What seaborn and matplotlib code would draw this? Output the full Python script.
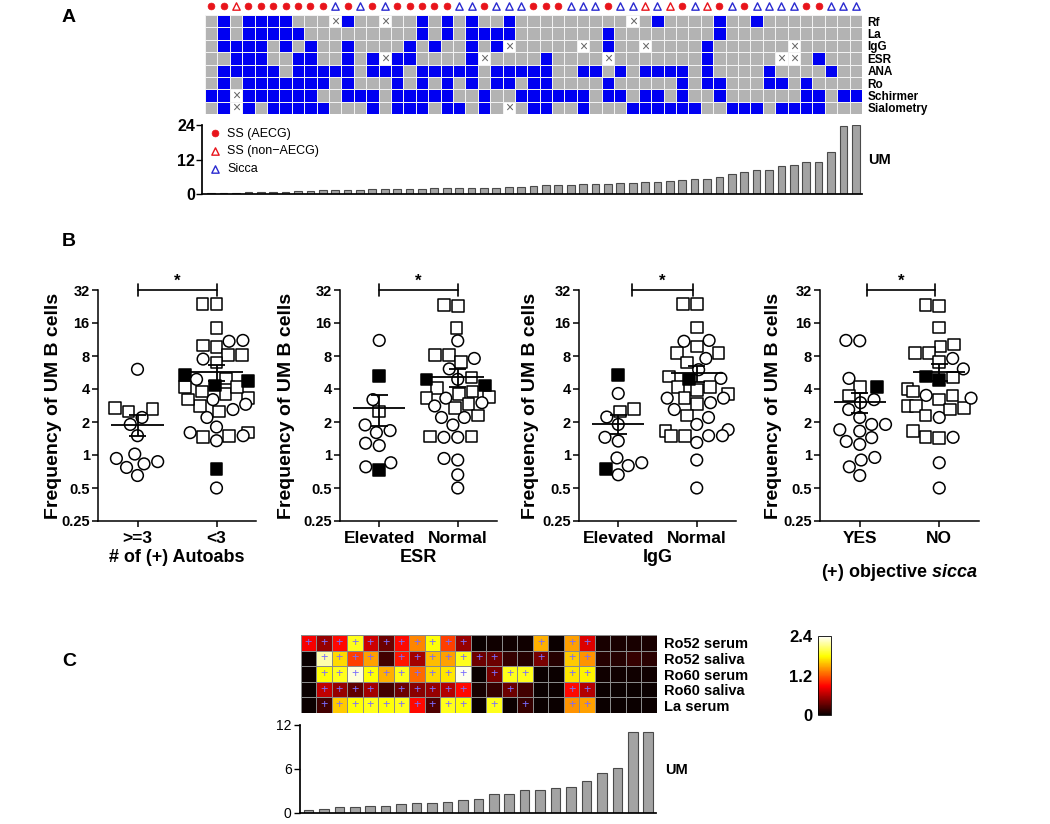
import numpy as np
import pandas as pd
import matplotlib
matplotlib.use('Agg')
import matplotlib.pyplot as plt
import seaborn as sns
from matplotlib.colors import ListedColormap
from matplotlib.markers import MarkerStyle
from matplotlib.ticker import NullLocator

sns.set_theme(style='ticks', rc={'axes.edgecolor': 'black', 'text.color': 'black',
                                 'xtick.color': 'black', 'ytick.color': 'black',
                                 'axes.labelcolor': 'black'})
plt.rcParams['font.family'] = ['Liberation Sans', 'DejaVu Sans']
plt.rcParams['mathtext.fontset'] = 'custom'
plt.rcParams['mathtext.it'] = 'Liberation Sans:italic:bold'
plt.rcParams['mathtext.rm'] = 'Liberation Sans:bold'

W, H = 1050, 824

# ---------------- panel A: clinical grid (53 patients) ----------------
a_rows = ['Rf', 'La', 'IgG', 'ESR', 'ANA', 'Ro', 'Schirmer', 'Sialometry']
# 1 = positive (blue), 0 = negative (grey), x = not available
a_rf = "01011 11000 x100x 00101 01001 00000 0000x 01000 01001 00000 000"
a_la = "01011 11100 00000 00101 01111 00000 00100 00000 01000 00000 000"
a_igg = "01111 01010 01000 01010 0101x 00000 x0100 x0000 10000 00x00 000"
a_esr = "00111 00110 0101x 11000 01x00 00100 00x00 00000 10000 0xx01 000"
a_ana = "01111 10111 11011 10111 11011 11100 11010 11110 10000 10000 100"
a_ro = "01011 11111 01000 10101 01011 01100 00100 00010 11000 11010 000"
a_schirmer = "11x11 11110 01110 11111 00100 11111 10110 11010 01000 00011 011"
a_sialometry = "01x10 11111 00010 11101 1010x 01100 10001 11111 00111 01111 000"
# A = SS (AECG), N = SS (non-AECG), S = Sicca
a_group = "AANAA AAAAA SASAS AAAAA SSASS SAAAS SSASS NSNAS NASAS SSSAA SSS"
a_um = [0.35, 0.45, 0.45, 0.6, 0.6, 0.6, 0.8, 1.15, 1.15, 1.3, 1.3, 1.3, 1.4,
        1.6, 1.6, 1.75, 1.75, 1.75, 2.0, 2.0, 2.1, 2.1, 2.2, 2.2, 2.3, 2.6,
        2.8, 3.1, 3.1, 3.1, 3.5, 3.6, 3.6, 3.7, 4.0, 4.1, 4.2, 4.5, 4.9, 5.1,
        5.3, 6.0, 7.0, 7.7, 8.4, 8.4, 9.8, 10.0, 11.2, 11.3, 14.7, 23.7, 24.0]

# ---------------- panel B: frequency of UM B cells ----------------
auto_hi_circle = [6.05, 2.2, 1.9, 1.5, 1.02, 0.93, 0.83, 0.87, 0.77, 0.65]
auto_hi_square = [2.64, 2.7, 2.5]
auto_hi_filled = []
auto_lo_circle = [10.9, 11.1, 7.5, 4.9, 3.2, 2.9, 2.6, 2.2, 1.8, 1.6, 1.5, 1.35, 0.5]
auto_lo_square = [23.7, 23.9, 14.5, 9.7, 10.0, 8.2, 8.2, 7.0, 5.0, 4.2, 3.3, 3.6,
                  3.8, 4.2, 2.8, 2.5, 3.2, 1.5, 1.6, 1.45]
auto_lo_filled = [5.4, 4.7, 4.3, 0.75]

esr_hi_circle = [11.1, 3.2, 1.88, 1.67, 1.6, 1.28, 1.22, 0.85, 0.78]
esr_hi_square = [2.5]
esr_hi_filled = [5.27, 0.73]
esr_lo_circle = [11.0, 7.6, 6.1, 4.9, 3.3, 3.0, 2.8, 2.2, 2.2, 1.88, 1.45, 1.45,
                 0.93, 0.9, 0.66, 0.5]
esr_lo_square = [23.5, 23.0, 14.5, 8.2, 8.2, 7.1, 5.1, 3.8, 4.1, 3.4, 3.6, 3.3,
                 2.9, 2.7, 2.3, 1.47, 1.47]
esr_lo_filled = [4.9, 4.3]

igg_hi_circle = [3.64, 2.22, 1.9, 1.34, 1.45, 0.94, 0.8, 0.85, 0.66]
igg_hi_square = [2.64, 2.5]
igg_hi_filled = [5.36, 0.75]
igg_lo_circle = [11.1, 10.9, 7.6, 6.0, 5.0, 3.3, 3.3, 3.0, 2.6, 2.2, 1.9, 1.7,
                 1.5, 1.5, 1.3, 0.9, 0.5]
igg_lo_square = [23.7, 24.0, 14.6, 9.8, 8.5, 8.5, 7.0, 5.2, 4.2, 4.2, 3.9, 3.6,
                 3.3, 2.9, 2.3, 1.5, 1.66, 1.5]
igg_lo_filled = [4.9]

sic_yes_circle = [11.0, 11.1, 5.0, 3.2, 3.0, 2.6, 2.2, 1.9, 1.9, 1.7, 1.65, 1.44,
                  1.33, 1.25, 0.95, 0.9, 0.78, 0.65]
sic_yes_square = [4.2, 3.5]
sic_yes_filled = [4.2]
sic_no_circle = [7.6, 6.1, 3.5, 3.3, 2.2, 1.45, 0.85, 0.5]
sic_no_square = [23.5, 23.0, 14.6, 10.2, 9.8, 8.5, 8.5, 7.1, 5.1, 4.0, 3.8, 3.5,
                 3.2, 2.7, 2.8, 2.8, 2.6, 2.3, 1.45, 1.43, 1.65]
sic_no_filled = [4.8, 5.2]

b_yticks = [0.25, 0.5, 1, 2, 4, 8, 16, 32]
b_yticklabels = ['0.25', '0.5', '1', '2', '4', '8', '16', '32']

# ---------------- panel C: autoantibody heatmap (23 patients) ----------------
c_rows = ['Ro52 serum', 'Ro52 saliva', 'Ro60 serum', 'Ro60 saliva', 'La serum']
c_ro52_serum = [0.85, 0.5, 0.9, 1.85, 0.7, 0.35, 0.9, 1.35, 1.8, 1.1, 0.5, 0.0,
                0.02, 0.02, 0.02, 1.5, 0.0, 1.45, 0.75, 0.05, 0.05, 0.05, 0.05]
c_ro52_saliva = [0.0, 2.2, 1.65, 1.1, 1.45, 0.2, 0.95, 0.55, 1.55, 1.45, 1.85, 0.35,
                 0.35, 0.15, 0.1, 0.4, 0.1, 1.6, 1.4, 0.1, 0.1, 0.15, 0.12]
c_ro60_serum = [0.0, 1.8, 1.85, 2.3, 1.8, 1.5, 1.85, 1.25, 1.65, 1.7, 2.35, 0.0,
                0.4, 1.85, 1.85, 0.0, 0.0, 1.7, 1.75, 0.02, 0.02, 0.02, 0.02]
c_ro60_saliva = [0.0, 0.65, 0.5, 0.3, 0.55, 0.2, 0.35, 0.45, 0.5, 0.6, 0.9, 0.05,
                 0.15, 0.35, 0.2, 0.0, 0.0, 0.9, 0.6, 0.0, 0.0, 0.0, 0.0]
c_la_serum = [0.0, 0.2, 1.6, 1.8, 1.85, 1.8, 1.85, 0.9, 0.25, 1.85, 1.8, 0.0,
              1.85, 0.0, 0.15, 0.0, 0.0, 1.4, 1.45, 0.0, 0.0, 0.0, 0.0]
# 1 = marked positive (+)
c_pos_ro52_serum = "11111 11111 10000 10110 000"
c_pos_ro52_saliva = "01111 01111 11100 10110 000"
c_pos_ro60_serum = "01111 11111 10111 00110 000"
c_pos_ro60_saliva = "01111 01111 10010 00110 000"
c_pos_la_serum = "01111 11111 10101 00110 000"
c_um = [0.45, 0.6, 0.82, 0.82, 0.9, 1.0, 1.2, 1.37, 1.37, 1.46, 1.8, 1.87,
        2.55, 2.55, 3.2, 3.2, 3.4, 3.55, 4.3, 5.5, 6.1, 11.0, 11.1]


def parse(s):
    return [np.nan if c == 'x' else int(c) for c in s.replace(' ', '')]


fig = plt.figure(figsize=(W / 100, H / 100), dpi=100)


def add_ax(left, top, right, bottom):
    return fig.add_axes([left / W, 1 - bottom / H, (right - left) / W, (bottom - top) / H])


def bold_ticks(ax):
    for t in ax.get_xticklabels() + ax.get_yticklabels():
        t.set_fontweight('bold')


# ================= panel A =================
a_mat = pd.DataFrame([parse(s) for s in [a_rf, a_la, a_igg, a_esr, a_ana, a_ro,
                                         a_schirmer, a_sialometry]], index=a_rows)
ax_ah = add_ax(205, 15, 862, 114)
sns.heatmap(a_mat, cmap=ListedColormap(['#b3b3b3', '#0000f2']), vmin=0, vmax=1,
            cbar=False, linewidths=0.6, linecolor='#f2f2f2', xticklabels=False,
            yticklabels=True, ax=ax_ah)
ax_ah.set_facecolor('white')
ax_ah.yaxis.tick_right()
ax_ah.tick_params(axis='y', length=0, pad=4, labelsize=8.5, labelrotation=0)
bold_ticks(ax_ah)
for r, c in zip(*np.where(a_mat.isna().values)):
    ax_ah.text(c + 0.5, r + 0.52, '×', ha='center', va='center', color='#666666', fontsize=10)

groups = list(a_group.replace(' ', ''))
gx = np.arange(len(groups)) + 0.5
sym = {'A': dict(marker='o', facecolor='#e8141b', edgecolor='#e8141b', s=24, linewidths=0.5,
                 label='SS (AECG)'),
       'N': dict(marker='^', facecolor='white', edgecolor='#e8141b', s=28, linewidths=1,
                 label='SS (non\u2212AECG)'),
       'S': dict(marker='^', facecolor='white', edgecolor='#2a2ad0', s=28, linewidths=1,
                 label='Sicca')}
handles = []
for g in 'ANS':
    idx = [i for i, v in enumerate(groups) if v == g]
    handles.append(ax_ah.scatter(gx[idx], np.full(len(idx), -0.72), clip_on=False,
                                 zorder=5, **sym[g]))

ax_ab = add_ax(202, 125, 862, 194)
sns.barplot(x=np.arange(len(a_um)), y=a_um, color='#a3a3a3', edgecolor='#4a4a4a',
            linewidth=0.8, width=0.62, saturation=1, ax=ax_ab)
ax_ab.set_xlim(-0.74, 52.5)
ax_ab.set_ylim(0, 24)
ax_ab.set_yticks([0, 12, 24])
ax_ab.set_xticks([])
ax_ab.set_xlabel('')
ax_ab.set_ylabel('')
sns.despine(ax=ax_ab)
ax_ab.tick_params(axis='y', labelsize=11.5, width=1, length=4, pad=1)
bold_ticks(ax_ab)
ax_ab.legend(handles=handles, loc='upper left', bbox_to_anchor=(0.012, 0.96),
             frameon=False, fontsize=9, borderaxespad=0, borderpad=0,
             labelspacing=0.45, handlelength=0.8, handletextpad=0.6)
ax_ab.text(1.009, 0.5, 'UM', transform=ax_ab.transAxes, fontsize=10.5,
           fontweight='bold', va='center')

# ================= panel B =================
circle_path = MarkerStyle('o').get_path().transformed(MarkerStyle('o').get_transform())
square_path = MarkerStyle('s').get_path().transformed(MarkerStyle('s').get_transform())
kind_paths = {'circle': circle_path, 'square': square_path, 'filled': square_path}

b_panels = [
    dict(box=(98, 256), names=['>=3', '<3'], xlabel='# of (+) Autoabs', yoff=-36,
         bracket=(0.0, 1.0), lpad=2,
         sets=[(auto_hi_circle, auto_hi_square, auto_hi_filled),
               (auto_lo_circle, auto_lo_square, auto_lo_filled)]),
    dict(box=(340, 497), names=['Elevated', 'Normal'], xlabel='ESR', yoff=-45,
         bracket=(0.0, 1.0), lpad=2,
         sets=[(esr_hi_circle, esr_hi_square, esr_hi_filled),
               (esr_lo_circle, esr_lo_square, esr_lo_filled)]),
    dict(box=(579, 736), names=['Elevated', 'Normal'], xlabel='IgG', yoff=-40,
         bracket=(0.17, 0.95), lpad=2,
         sets=[(igg_hi_circle, igg_hi_square, igg_hi_filled),
               (igg_lo_circle, igg_lo_square, igg_lo_filled)]),
    dict(box=(820, 979), names=['YES', 'NO'], xlabel='(+) objective $\\mathit{sicca}$',
         yoff=-38, bracket=(0.09, 0.95), lpad=12,
         sets=[(sic_yes_circle, sic_yes_square, sic_yes_filled),
               (sic_no_circle, sic_no_square, sic_no_filled)]),
]

for p in b_panels:
    left, right = p['box']
    ax = add_ax(left, 290, right, 521)
    rows = []
    for name, (circ, sq, fil) in zip(p['names'], p['sets']):
        rows += [(name, v, 'square') for v in sq]
        rows += [(name, v, 'filled') for v in fil]
        rows += [(name, v, 'circle') for v in circ]
    sub = pd.DataFrame(rows, columns=['group', 'value', 'kind'])
    sns.swarmplot(data=sub, x='group', y='value', hue='kind', order=p['names'],
                  hue_order=['circle', 'square', 'filled'],
                  palette={'circle': 'white', 'square': 'white', 'filled': 'black'},
                  size=8.4, edgecolor='black', linewidth=1.1, log_scale=2,
                  legend=False, warn_thresh=1, ax=ax)
    for coll, name in zip(ax.collections, p['names']):
        kinds = sub.loc[sub['group'] == name, 'kind']
        coll.set_paths([kind_paths[k] for k in kinds])
        coll.set_zorder(3)

    stats = sub.groupby('group')['value'].agg(['mean', 'sem'])
    for i, name in enumerate(p['names']):
        m, se = stats.loc[name, 'mean'], stats.loc[name, 'sem']
        ax.hlines(m, i - 0.33, i + 0.33, color='black', lw=1.3, zorder=6)
        ax.vlines(i, m - se, m + se, color='black', lw=1.3, zorder=6)
        ax.hlines([m - se, m + se], i - 0.11, i + 0.11, color='black', lw=1.3, zorder=6)

    x0, x1 = p['bracket']
    ax.plot([x0, x1], [32, 32], color='black', lw=1.2, clip_on=False)
    for xb in (x0, x1):
        ax.plot([xb, xb], [28, 36.5], color='black', lw=1.2, clip_on=False)
    ax.text((x0 + x1) / 2, 35, '*', ha='center', va='baseline', fontsize=12,
            fontweight='bold')

    ax.set_xlim(-0.5, 1.5)
    ax.set_ylim(0.25, 32)
    ax.set_yticks(b_yticks)
    ax.set_yticklabels(b_yticklabels)
    ax.yaxis.set_minor_locator(NullLocator())
    sns.despine(ax=ax)
    for s in ax.spines.values():
        s.set_linewidth(1.1)
    ax.tick_params(axis='y', labelsize=10.5, width=1.1, length=4, pad=2)
    ax.tick_params(axis='x', labelsize=12.5, width=1.1, length=4, pad=3)
    bold_ticks(ax)
    ax.set_xlabel(p['xlabel'], fontsize=13, fontweight='bold', labelpad=p['lpad'])
    ax.set_ylabel('Frequency of UM B cells', fontsize=14, fontweight='bold')
    ax.yaxis.set_label_coords(p['yoff'] / (right - left), 0.5)

# ================= panel C =================
c_mat = pd.DataFrame([c_ro52_serum, c_ro52_saliva, c_ro60_serum, c_ro60_saliva,
                      c_la_serum], index=c_rows)
c_pos = np.array([parse(s) for s in [c_pos_ro52_serum, c_pos_ro52_saliva,
                                     c_pos_ro60_serum, c_pos_ro60_saliva,
                                     c_pos_la_serum]])
c_annot = np.where(c_pos == 1, '+', '')

ax_ch = add_ax(300.7, 635, 656.7, 713)
cax = add_ax(818, 636, 831, 715)
sns.heatmap(c_mat, cmap='hot', vmin=0, vmax=2.4, annot=c_annot, fmt='',
            annot_kws=dict(color='#7a6cff', fontsize=9), linewidths=0.5,
            linecolor='#8a8a8a', xticklabels=False, yticklabels=True,
            cbar_ax=cax, ax=ax_ch)
ax_ch.yaxis.tick_right()
ax_ch.tick_params(axis='y', length=0, pad=5, labelsize=10.5, labelrotation=0)
bold_ticks(ax_ch)
cbar = ax_ch.collections[0].colorbar
cbar.set_ticks([0, 1.2, 2.4], labels=['0', '1.2', '2.4'])
cbar.outline.set_linewidth(0.6)
cax.yaxis.set_ticks_position('left')
cax.tick_params(labelsize=12, length=0, pad=4)
bold_ticks(cax)

ax_cb = add_ax(300, 725, 656, 813)
sns.barplot(x=np.arange(len(c_um)), y=c_um, color='#a3a3a3', edgecolor='#4a4a4a',
            linewidth=0.8, width=0.62, saturation=1, ax=ax_cb)
ax_cb.set_xlim(-0.545, 22.5)
ax_cb.set_ylim(0, 12)
ax_cb.set_yticks([0, 6, 12])
ax_cb.set_xticks([])
ax_cb.set_xlabel('')
ax_cb.set_ylabel('')
sns.despine(ax=ax_cb)
ax_cb.tick_params(axis='y', labelsize=10, width=1, length=4, pad=2)
ax_cb.text(1.025, 0.49, 'UM', transform=ax_cb.transAxes, fontsize=10.5,
           fontweight='bold', va='center')

# panel letters
for letter, (px, py) in zip('ABC', [(62, 18), (62, 241), (62, 662)]):
    fig.text(px / W, 1 - py / H, letter, fontsize=14, fontweight='bold', va='center')

fig.savefig('out.png', dpi=100)
